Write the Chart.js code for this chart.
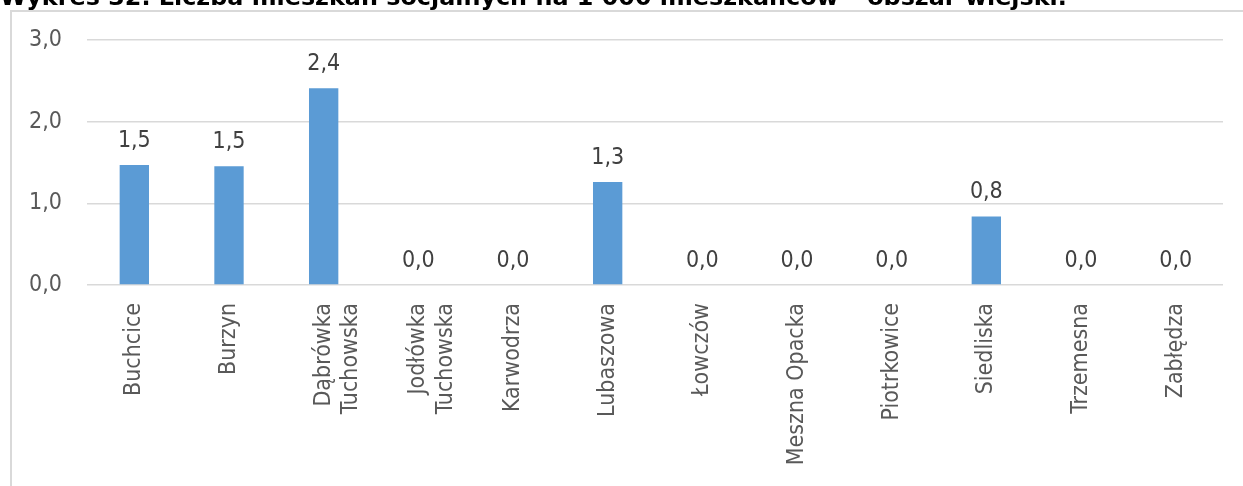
<!doctype html>
<html lang="pl">
<head>
    <meta charset="UTF-8">
    <script src="https://cdn.jsdelivr.net/npm/chart.js@4.4.1/dist/chart.umd.min.js"></script>
    <title>Wykres 32</title>
    <style>
        *, ::before, ::after {
            margin: 0;
            padding: 0;
            box-sizing: border-box;
        }

        body {
            width: 1243px;
            height: 486px;
            overflow: hidden;
            background: #fff;
        }

        .container {
            position: relative;
            width: 1243px;
            height: 486px;
        }
    </style>
</head>
<body>
<div class="container">
    <canvas id="canvas"></canvas>
</div>

<script>
    const title = "Wykres 32. Liczba mieszkań socjalnych na 1 000 mieszkańców – obszar wiejski.";

    const categories = [
        "Buchcice",
        "Burzyn",
        ["Dąbrówka", "Tuchowska"],
        ["Jodłówka", "Tuchowska"],
        "Karwodrza",
        "Lubaszowa",
        "Łowczów",
        "Meszna Opacka",
        "Piotrkowice",
        "Siedliska",
        "Trzemesna",
        "Zabłędza",
    ];

    // mieszkania socjalne na 1 000 mieszkańców
    const values = [1.47, 1.455, 2.41, 0, 0, 1.26, 0, 0, 0, 0.84, 0, 0];

    const yTicks = [0, 1, 2, 3];

    const fontFamily = "'DejaVu Sans Condensed', 'DejaVu Sans', sans-serif";
    const fmt = (v) => (Math.round(v * 10) / 10).toFixed(1).replace(".", ",");

    // ramka i tytuł (obcięty u góry jak w oryginale)
    const framePlugin = {
        id: "frame",
        beforeDraw(chart) {
            const ctx = chart.ctx;
            ctx.save();
            ctx.strokeStyle = "#d9d9d9";
            ctx.lineWidth = 2;
            ctx.beginPath();
            ctx.moveTo(11, 486);
            ctx.lineTo(11, 11);
            ctx.lineTo(1243, 11);
            ctx.stroke();

            ctx.font = "bold 20px 'DejaVu Sans', sans-serif";
            const w = ctx.measureText(title).width;
            const size = 20 * 1067 / w;
            ctx.font = "bold " + size + "px 'DejaVu Sans', sans-serif";
            ctx.fillStyle = "#000";
            ctx.textBaseline = "alphabetic";
            ctx.textAlign = "left";
            ctx.fillText(title, 0, 5);
            ctx.restore();
        },
    };

    // etykiety wartości nad słupkami
    const labelPlugin = {
        id: "valueLabels",
        afterDatasetsDraw(chart) {
            const ctx = chart.ctx;
            const meta = chart.getDatasetMeta(0);
            ctx.save();
            ctx.font = "23px " + fontFamily;
            ctx.fillStyle = "#404040";
            ctx.textAlign = "center";
            ctx.textBaseline = "alphabetic";
            meta.data.forEach((bar, i) => {
                ctx.fillText(fmt(values[i]), bar.x, bar.y - 18);
            });
            ctx.restore();
        },
    };

    const ctx = document.getElementById("canvas").getContext("2d");
    new Chart(ctx, {
        type: "bar",
        data: {
            labels: categories,
            datasets: [
                {
                    data: values,
                    backgroundColor: "#5b9bd5",
                    borderWidth: 0,
                    barPercentage: 0.62,
                    categoryPercentage: 0.5,
                },
            ],
        },
        options: {
            responsive: true,
            maintainAspectRatio: false,
            animation: false,
            layout: {
                padding: {top: 40, right: 20, left: 0, bottom: 0},
            },
            plugins: {
                legend: {display: false},
                tooltip: {enabled: false},
            },
            scales: {
                x: {
                    grid: {display: false},
                    border: {display: false},
                    afterFit: (scale) => {
                        scale.height = 201;
                    },
                    ticks: {
                        color: "#595959",
                        font: {family: fontFamily, size: 23},
                        minRotation: 90,
                        maxRotation: 90,
                        autoSkip: false,
                        padding: 10,
                    },
                },
                y: {
                    min: 0,
                    max: 3,
                    afterFit: (scale) => {
                        scale.width = 87;
                    },
                    afterBuildTicks: (scale) => {
                        scale.ticks = yTicks.map((v) => ({value: v}));
                    },
                    border: {display: false},
                    grid: {
                        color: "#d9d9d9",
                        lineWidth: 1.5,
                        drawTicks: false,
                    },
                    ticks: {
                        color: "#595959",
                        font: {family: fontFamily, size: 23},
                        padding: 25,
                        callback: (v) => fmt(v),
                    },
                },
            },
        },
        plugins: [framePlugin, labelPlugin],
    });
</script>
</body>
</html>
